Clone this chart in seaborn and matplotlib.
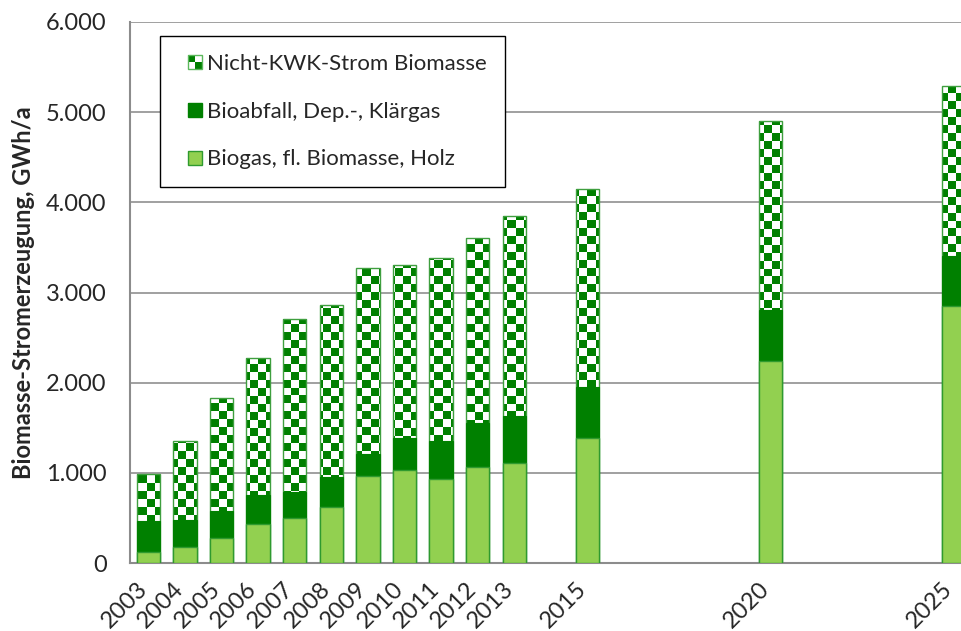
import numpy as np
import pandas as pd
import seaborn as sns
import matplotlib
matplotlib.use("Agg")
import matplotlib.pyplot as plt
from matplotlib.colors import ListedColormap
from matplotlib.patches import Patch, Rectangle
from matplotlib.legend_handler import HandlerBase
from matplotlib.ticker import FuncFormatter, FixedLocator
from matplotlib.transforms import ScaledTranslation

# Daten, GWh/a
jahre_alle = [str(j) for j in range(2003, 2026)]
jahre = ["2003", "2004", "2005", "2006", "2007", "2008", "2009", "2010",
         "2011", "2012", "2013", "2015", "2020", "2025"]
biogas = [125, 175, 280, 430, 500, 625, 960, 1030, 935, 1060, 1110, 1390, 2240, 2845]
bioabfall = [340, 300, 295, 320, 290, 325, 250, 355, 420, 495, 515, 565, 565, 565]
nicht_kwk = [520, 875, 1250, 1520, 1920, 1915, 2065, 1915, 2030, 2045, 2225, 2195, 2095, 1885]

namen = ["Nicht-KWK-Strom Biomasse", "Bioabfall, Dep.-, Klärgas", "Biogas, fl. Biomasse, Holz"]
hellgruen = "#92D050"
gruen = "#008000"
rand = "#3f9f3f"
grau = "#8c8c8c"

df = pd.DataFrame({"jahr": jahre, "biogas": biogas,
                   "bioabfall": bioabfall, "nicht_kwk": nicht_kwk})
df["stufe2"] = df["biogas"] + df["bioabfall"]
df["gesamt"] = df["stufe2"] + df["nicht_kwk"]

sns.set_style("white")
plt.rcParams["font.family"] = ["Lato", "DejaVu Sans"]

fig = plt.figure(figsize=(9.61, 6.31), dpi=100)
# Achse reicht rechts absichtlich über den Bildrand hinaus (wie im Original)
ax = fig.add_axes([130 / 961, 68 / 631, 841.8 / 961, 541 / 631])

breite = 0.64
sns.barplot(data=df, x="jahr", y="gesamt", order=jahre_alle, color="white",
            width=breite, edgecolor=rand, linewidth=1.0, saturation=1, ax=ax, zorder=2)
oben = list(ax.patches)

# Karomuster für Nicht-KWK-Strom
spalten, zeilen = 105, 68
karo = np.add.outer(np.arange(zeilen), np.arange(spalten)) % 2
for p in oben:
    im = ax.imshow(karo, cmap=ListedColormap(["white", gruen]), origin="lower",
                   extent=(-0.5, 22.5, 0, 6000), interpolation="nearest",
                   aspect="auto", zorder=2.1)
    im.set_clip_path(p)
    p.set_facecolor("none")
    p.set_zorder(2.2)

sns.barplot(data=df, x="jahr", y="stufe2", order=jahre_alle, color=gruen,
            width=breite, edgecolor=gruen, linewidth=0.8, saturation=1, ax=ax, zorder=3)
sns.barplot(data=df, x="jahr", y="biogas", order=jahre_alle, color=hellgruen,
            width=breite, edgecolor="#2f9a2f", linewidth=1.0, saturation=1, ax=ax, zorder=4)

ax.set_xlim(-0.5, 22.5)
ax.set_ylim(0, 6000)
ax.set_yticks(range(0, 6001, 1000))
ax.yaxis.set_major_formatter(FuncFormatter(lambda v, _: f"{int(v):,}".replace(",", ".")))
ax.grid(axis="y", color="#a0a0a0", linewidth=1.4, zorder=0)
ax.set_axisbelow(True)

ax.set_xticks(range(len(jahre_alle)))
ax.set_xticklabels([j if j in jahre else "" for j in jahre_alle],
                   rotation=45, ha="right", va="baseline", rotation_mode="anchor", fontsize=17)
verschub = ScaledTranslation(1 / 72, 0, fig.dpi_scale_trans)
for t in ax.get_xticklabels():
    t.set_transform(t.get_transform() + verschub)
ax.xaxis.set_minor_locator(FixedLocator(np.arange(-0.5, 23, 1)))
ax.tick_params(axis="x", which="major", length=0, pad=19.4)
ax.tick_params(axis="x", which="minor", length=5.5, width=1.3, color=grau, direction="out")
ax.tick_params(axis="y", length=5.8, width=1.3, color=grau, direction="out", labelsize=17, pad=11)
ax.set_xlabel("")
ax.set_ylabel("Biomasse-Stromerzeugung, GWh/a", fontsize=17, fontweight="bold", labelpad=8)

for s in ["top", "right"]:
    ax.spines[s].set_visible(False)
for s in ["left", "bottom"]:
    ax.spines[s].set_color(grau)
    ax.spines[s].set_linewidth(1.5)


class QuadratHandler(HandlerBase):
    # kleines Quadrat am rechten Rand der Handle-Fläche, optional mit Karo
    def __init__(self, fc, ec, karo=False):
        super().__init__()
        self.fc, self.ec, self.karo = fc, ec, karo

    def create_artists(self, legend, orig_handle, xdescent, ydescent,
                       width, height, fontsize, trans):
        s = 14 * 72 / fig.dpi
        x0 = -xdescent + width - s
        y0 = -ydescent + (height - s) / 2
        teile = [Rectangle((x0, y0), s, s, facecolor=self.fc, edgecolor="none", transform=trans)]
        if self.karo:
            for i in range(2):
                for k in range(2):
                    if (i + k) % 2 == 1:
                        teile.append(Rectangle((x0 + i * s / 2, y0 + k * s / 2), s / 2, s / 2,
                                               facecolor=gruen, edgecolor="none", transform=trans))
        teile.append(Rectangle((x0, y0), s, s, facecolor="none", edgecolor=self.ec,
                               linewidth=1, transform=trans))
        return teile


h_karo = Patch(facecolor="white")
h_dunkel = Patch(facecolor=gruen)
h_hell = Patch(facecolor=hellgruen)
leg = ax.legend([h_karo, h_dunkel, h_hell], namen,
                handler_map={h_karo: QuadratHandler("white", "#5cb85c", karo=True),
                             h_dunkel: QuadratHandler(gruen, gruen),
                             h_hell: QuadratHandler(hellgruen, "#2f9a2f")},
                loc="upper left", bbox_to_anchor=(0.0356, 0.974), borderaxespad=0,
                fontsize=16, handlelength=1.07, handleheight=0.7, handletextpad=0.25,
                labelspacing=1.25, borderpad=0.8, fancybox=False, framealpha=1,
                edgecolor="black")
leg.get_frame().set_linewidth(1.0)

plt.savefig("out.png", dpi=100)
